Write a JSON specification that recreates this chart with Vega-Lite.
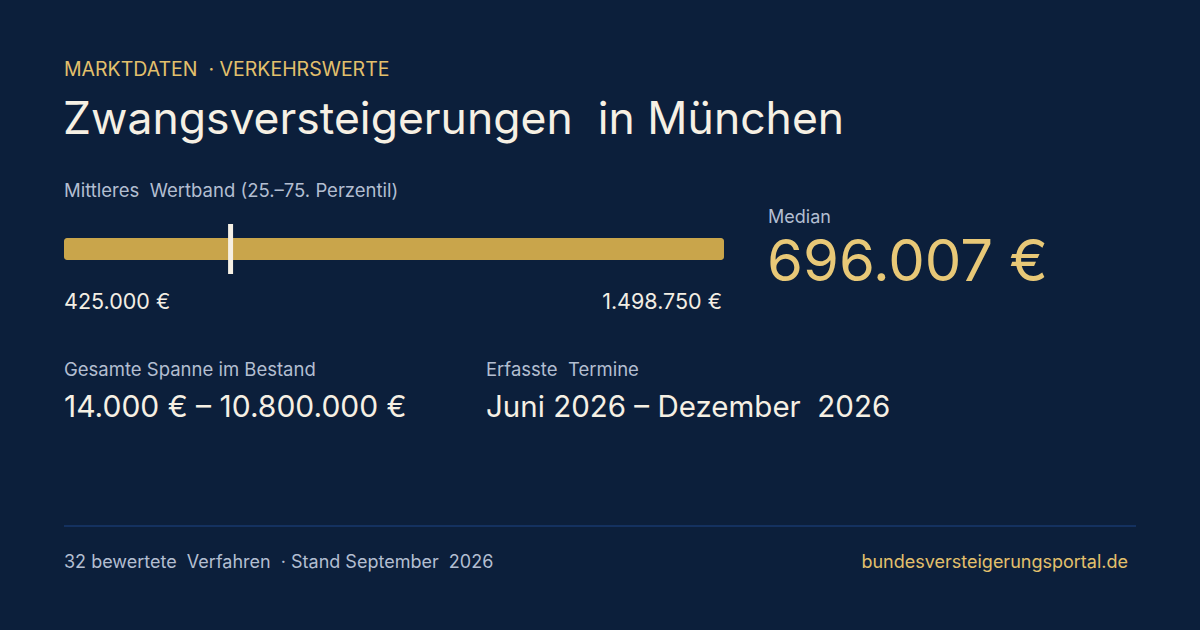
{
  "$schema": "https://vega.github.io/schema/vega-lite/v6.json",
  "description": "Zwangsversteigerungen in München: mittleres Wertband und Median.",
  "width": 1200,
  "height": 630,
  "autosize": {"type": "fit", "contains": "padding"},
  "padding": 0,
  "background": "#0c1f3b",
  "config": {
    "view": {"stroke": null},
    "font": "Inter",
    "locale": {
      "number": {"decimal": ",", "thousands": ".", "grouping": [3], "currency": ["", "\u00a0€"]}
    },
    "text": {"font": "Inter", "align": "left", "baseline": "alphabetic"}
  },
  "data": {"values": [{"p25": 425000, "p75": 1498750, "median": 696007}]},
  "layer": [
    {
      "mark": {"type": "bar", "color": "#c9a54b", "cornerRadius": 3},
      "encoding": {
        "x": {"field": "p25", "type": "quantitative", "scale": {"domain": [320879, 2273167], "nice": false, "zero": false}, "axis": null},
        "x2": {"field": "p75"},
        "y": {"value": 238},
        "y2": {"value": 260}
      }
    },
    {
      "mark": {"type": "rule", "color": "#f6f0e4", "strokeWidth": 5},
      "encoding": {
        "x": {"field": "median", "type": "quantitative"},
        "y": {"value": 224},
        "y2": {"value": 274}
      }
    },
    {
      "mark": {"type": "text", "fontSize": 21.5, "color": "#f3eee4"},
      "encoding": {
        "x": {"field": "p25", "type": "quantitative"},
        "y": {"value": 309},
        "text": {"field": "p25", "type": "quantitative", "format": "$,.0f"}
      }
    },
    {
      "mark": {"type": "text", "fontSize": 21.5, "color": "#f3eee4", "align": "right", "dx": -2},
      "encoding": {
        "x": {"field": "p75", "type": "quantitative"},
        "y": {"value": 309},
        "text": {"field": "p75", "type": "quantitative", "format": "$,.0f"}
      }
    },
    {
      "mark": {"type": "text", "fontSize": 58, "color": "#e8c877"},
      "encoding": {
        "x": {"value": 767},
        "y": {"value": 281},
        "text": {"field": "median", "type": "quantitative", "format": "$,.0f"}
      }
    },
    {
      "data": {"values": [{"t": "MARKTDATEN\u00a0 ·\u00a0VERKEHRSWERTE"}]},
      "mark": {"type": "text", "fontSize": 19.5, "color": "#e3c06c"},
      "encoding": {"x": {"value": 64}, "y": {"value": 76}, "text": {"field": "t"}}
    },
    {
      "data": {"values": [{"t": "Zwangsversteigerungen\u00a0 in München"}]},
      "mark": {"type": "text", "fontSize": 44.5, "color": "#f6f0e4"},
      "encoding": {"x": {"value": 63}, "y": {"value": 134}, "text": {"field": "t"}}
    },
    {
      "data": {"values": [{"t": "Mittleres\u00a0 Wertband (25.–75. Perzentil)"}]},
      "mark": {"type": "text", "fontSize": 18.5, "color": "#b3bed1"},
      "encoding": {"x": {"value": 64}, "y": {"value": 197}, "text": {"field": "t"}}
    },
    {
      "data": {"values": [{"t": "Median"}]},
      "mark": {"type": "text", "fontSize": 18, "color": "#b3bed1"},
      "encoding": {"x": {"value": 768}, "y": {"value": 223}, "text": {"field": "t"}}
    },
    {
      "data": {"values": [{"t": "Gesamte Spanne im Bestand"}]},
      "mark": {"type": "text", "fontSize": 18.5, "color": "#b3bed1"},
      "encoding": {"x": {"value": 64}, "y": {"value": 376}, "text": {"field": "t"}}
    },
    {
      "data": {"values": [{"t": "14.000 € – 10.800.000 €"}]},
      "mark": {"type": "text", "fontSize": 30, "color": "#f6f0e4"},
      "encoding": {"x": {"value": 64}, "y": {"value": 417}, "text": {"field": "t"}}
    },
    {
      "data": {"values": [{"t": "Erfasste\u00a0 Termine"}]},
      "mark": {"type": "text", "fontSize": 18.5, "color": "#b3bed1"},
      "encoding": {"x": {"value": 486}, "y": {"value": 376}, "text": {"field": "t"}}
    },
    {
      "data": {"values": [{"t": "Juni 2026 – Dezember\u00a0 2026"}]},
      "mark": {"type": "text", "fontSize": 29.5, "color": "#f6f0e4"},
      "encoding": {"x": {"value": 486}, "y": {"value": 417}, "text": {"field": "t"}}
    },
    {
      "data": {"values": [{"a": 0}]},
      "mark": {"type": "rule", "color": "#1d4585", "strokeWidth": 1},
      "encoding": {"x": {"value": 64}, "x2": {"value": 1136}, "y": {"value": 526}}
    },
    {
      "data": {"values": [{"t": "32 bewertete\u00a0 Verfahren\u00a0 · Stand September\u00a0 2026"}]},
      "mark": {"type": "text", "fontSize": 18, "color": "#b3bed1"},
      "encoding": {"x": {"value": 64}, "y": {"value": 568}, "text": {"field": "t"}}
    },
    {
      "data": {"values": [{"t": "bundesversteigerungsportal.de"}]},
      "mark": {"type": "text", "fontSize": 18, "color": "#e3c06c", "align": "right"},
      "encoding": {"x": {"value": 1128}, "y": {"value": 568}, "text": {"field": "t"}}
    }
  ]
}
